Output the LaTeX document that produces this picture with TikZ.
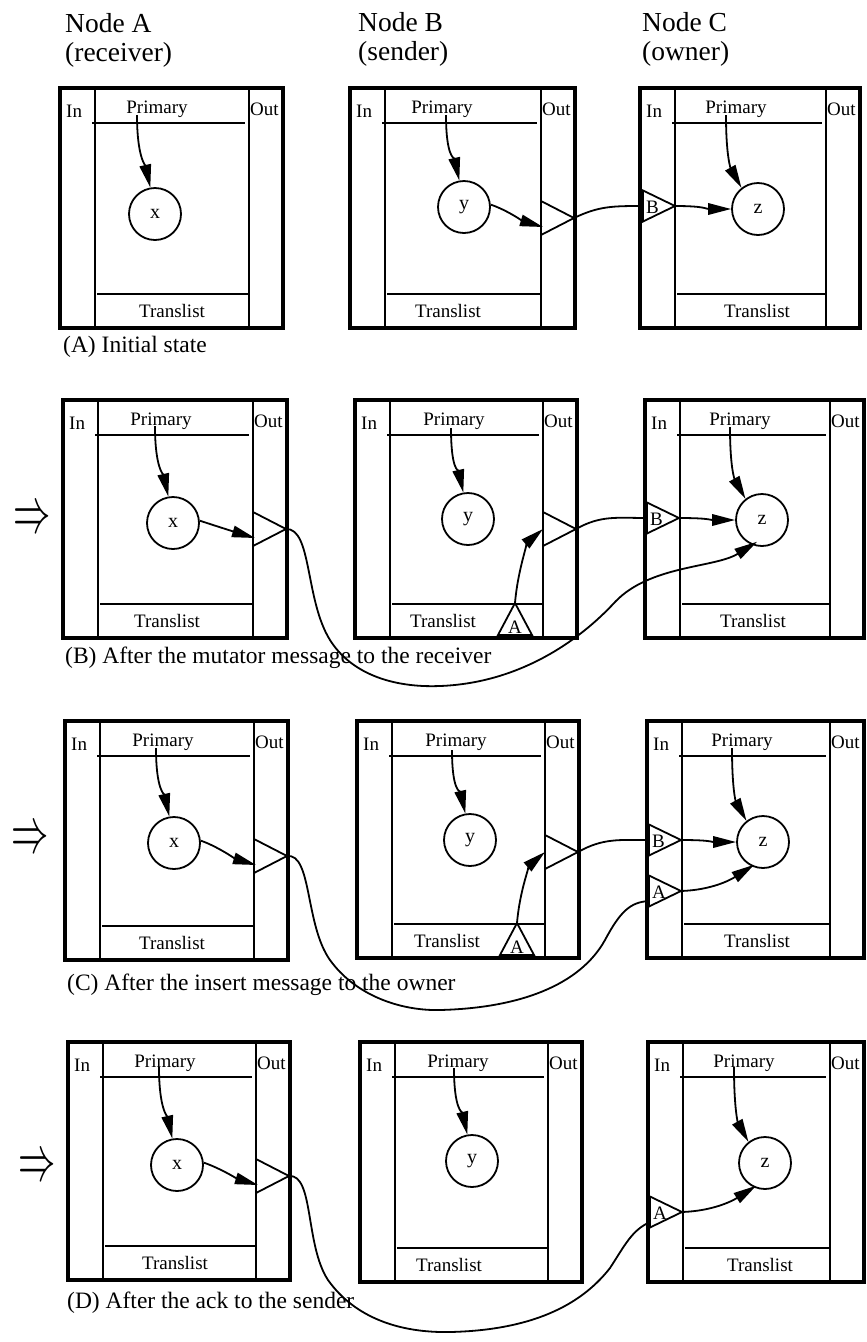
\documentclass[tikz,border=0pt]{standalone}
\usepackage{fontspec}
\setmainfont{Liberation Serif}
\usetikzlibrary{arrows.meta}
\tikzset{
  outer/.style={line width=4.5pt},
  ln/.style={line width=1.7pt},
  lbl/.style={font=\fontsize{19}{22}\selectfont, inner sep=0pt},
  hdr/.style={font=\fontsize{27.5}{32}\selectfont, inner sep=0pt, anchor=base west},
  captext/.style={font=\fontsize{23.5}{28}\selectfont, inner sep=0pt, anchor=base west},
  impl/.style={font=\fontsize{24.88}{30}\selectfont, inner sep=0pt},
  obj/.style={circle, draw, line width=1.8pt, minimum size=52pt, inner sep=0pt, font=\fontsize{20}{24}\selectfont},
  arr/.style={line width=1.8pt, -{Triangle[length=23pt,width=11.5pt]}},
  wire/.style={line width=1.8pt},
  tri/.style={line width=1.8pt, fill=white, line join=miter},
}
% #1 prefix, #2 L, #3 T, #4 R, #5 B, #6 Primary x, #7 Translist x
\newcommand{\panelbox}[7]{%
  \draw[outer] (#2,#3) rectangle (#4,#5);
  \draw[ln] ({#2+35},#3) -- ({#2+35},#5);
  \draw[ln] ({#4-34},#3) -- ({#4-34},#5);
  \draw[ln] ({#2+32},{#3+35}) -- ({#4-38},{#3+35});
  \draw[ln] ({#2+37},{#5-34}) -- ({#4-33},{#5-34});
  \node[lbl, anchor=base west] (#1in) at ({#2+6},{#3+29}) {In};
  \node[lbl, anchor=base] (#1prim) at (#6,{#3+25}) {Primary};
  \node[lbl, anchor=base west] (#1out) at ({#4-33},{#3+27}) {Out};
  \node[lbl, anchor=base] (#1tl) at (#7,{#5-11}) {Translist};
}
% out triangle: #1 name, #2 left x, #3 mid y
\newcommand{\outtri}[3]{%
  \draw[tri] (#2,{#3-17}) -- ({#2+33},#3) -- (#2,{#3+17}) -- cycle;
  \coordinate (#1-apex) at ({#2+33},#3);
  \coordinate (#1-in) at ({#2+2},{#3+9});
  \coordinate (#1-mid) at (#2,#3);
}
% in triangle: #1 name, #2 left x, #3 mid y, #4 label
\newcommand{\intri}[4]{%
  \draw[tri] (#2,{#3-15.5}) -- ({#2+32},#3) -- (#2,{#3+15.5}) -- cycle;
  \node[lbl, anchor=west] (#1-lbl) at ({#2+3},{#3+1}) {#4};
  \coordinate (#1-apex) at ({#2+32},#3);
  \coordinate (#1-left) at (#2,#3);
  \coordinate (#1-low) at (#2,{#3+10});
}
% up triangle: #1 name, #2 apex x, #3 base y, #4 label
\newcommand{\uptri}[4]{%
  \draw[tri] ({#2-17},#3) -- (#2,{#3-32}) -- ({#2+17},#3) -- cycle;
  \node[lbl, anchor=base] (#1-lbl) at (#2,{#3-2}) {#4};
  \coordinate (#1-apex) at (#2,{#3-32});
}
\begin{document}
\begin{tikzpicture}[x=1pt,y=-1pt]
\useasboundingbox (0,0) rectangle (867,1342);

% headers
\node[hdr] (hA1) at (65,32) {Node A};
\node[hdr] (hA2) at (65,61) {(receiver)};
\node[hdr] (hB1) at (358,31) {Node B};
\node[hdr] (hB2) at (358,60) {(sender)};
\node[hdr] (hC1) at (642,31) {Node C};
\node[hdr] (hC2) at (642,60) {(owner)};

% panels
\panelbox{a1}{60}{88}{283}{328}{157}{172}
\panelbox{b1}{350}{88}{575}{328}{442}{448}
\panelbox{c1}{640}{88}{860}{328}{736}{757}
\panelbox{a2}{63}{400}{287}{638}{161}{167}
\panelbox{b2}{355}{400}{577}{638}{454}{443}
\panelbox{c2}{645}{400}{864}{638}{740}{753}
\panelbox{a3}{65}{721}{288}{960}{163}{172}
\panelbox{b3}{357}{721}{579}{958}{456}{447}
\panelbox{c3}{647}{721}{864}{958}{742}{757}
\panelbox{a4}{68}{1042}{290}{1280}{165}{175}
\panelbox{b4}{360}{1042}{582}{1282}{458}{449}
\panelbox{c4}{648}{1042}{864}{1282}{744}{760}

% captions and implication arrows
\node[captext] (capA) at (63,352) {(A) Initial state};
\node[captext] (capB) at (65,663) {(B) After the mutator message to the receiver};
\node[captext] (capC) at (67,990) {(C) After the insert message to the owner};
\node[captext] (capD) at (67,1308) {(D) After the ack to the sender};
\node[impl] (impB) at (32,521) {\scalebox{1.5}[2.6]{$\Rightarrow$}};
\node[impl] (impC) at (30,841) {\scalebox{1.5}[2.6]{$\Rightarrow$}};
\node[impl] (impD) at (37,1169) {\scalebox{1.5}[2.6]{$\Rightarrow$}};

% triangles
\outtri{b1o}{541}{218}
\outtri{a2o}{253}{529}
\outtri{b2o}{543}{529}
\outtri{a3o}{254}{856}
\outtri{b3o}{545}{852}
\outtri{a4o}{256}{1176}
\intri{c1B}{643}{206}{B}
\intri{c2B}{647}{518}{B}
\intri{c3B}{649}{840}{B}
\intri{c3A}{649}{891}{A}
\intri{c4A}{650}{1212}{A}
\uptri{b2A}{515}{635}{A}
\uptri{b3A}{517}{955}{A}

% objects
\node[obj] (a1x) at (155,214) {x};
\node[obj] (b1y) at (464,207) {y};
\node[obj] (c1z) at (758,209) {z};
\node[obj] (a2x) at (173,523) {x};
\node[obj] (b2y) at (468,519) {y};
\node[obj] (c2z) at (762,520) {z};
\node[obj] (a3x) at (174,843) {x};
\node[obj] (b3y) at (470,840) {y};
\node[obj] (c3z) at (763,842) {z};
\node[obj] (a4x) at (177,1165) {x};
\node[obj] (b4y) at (472,1161) {y};
\node[obj] (c4z) at (765,1163) {z};

% primary pointers
\coordinate (a1p) at (137,115);
\coordinate (b1p) at (446,115);
\coordinate (c1p) at (726,115);
\coordinate (a2p) at (155,426);
\coordinate (b2p) at (451,428);
\coordinate (c2p) at (730,427);
\coordinate (a3p) at (156,748);
\coordinate (b3p) at (452,750);
\coordinate (c3p) at (732,748);
\coordinate (a4p) at (159,1067);
\coordinate (b4p) at (454,1068);
\coordinate (c4p) at (734,1067);
\foreach \p/\c in {a1p/a1x,b1p/b1y,a2p/a2x,b2p/b2y,a3p/a3x,b3p/b3y,a4p/a4x,b4p/b4y}{
  \draw[arr] (\p) .. controls +(0,42) and +(-5,-22) .. (\c.100);
}
\foreach \p/\c in {c1p/c1z,c2p/c2z,c3p/c3z,c4p/c4z}{
  \draw[arr] (\p) .. controls +(0,45) and +(-10,-18) .. (\c.128);
}

% object to out-triangle
\foreach \c/\t in {b1y/b1o,a2x/a2o,a3x/a3o,a4x/a4o}{
  \draw[arr] (\c.5) .. controls +(15,5) and +(-20,-6) .. (\t-in);
}

% row A
\draw[wire] (b1o-apex) .. controls +(25,-12) and +(-30,0) .. (c1B-left);
\draw[arr] (c1B-apex) .. controls +(30,0) and +(-25,0) .. (c1z.west);

% row B
\draw[arr, shorten >=-6pt] (a2o-apex) .. controls (312,528) and (305,600) .. (330,640)
  .. controls (350,672) and (390,688) .. (440,686)
  .. controls (520,683) and (580,640) .. (615,602)
  .. controls (650,565) and (715,568) .. (c2z.248);
\draw[arr] (b2A-apex) .. controls +(3,-35) and +(-14,12) .. (b2o-mid);
\draw[wire] (b2o-apex) .. controls +(25,-14) and +(-30,0) .. (c2B-left);
\draw[arr] (c2B-apex) .. controls +(30,0) and +(-25,0) .. (c2z.west);

% row C
\draw[wire] (a3o-apex) .. controls (312,853) and (305,925) .. (330,960)
  .. controls (355,995) and (400,1011) .. (440,1010)
  .. controls (520,1008) and (580,985) .. (605,940)
  .. controls (620,912) and (630,902) .. (c3A-low);
\draw[arr] (b3A-apex) .. controls +(3,-35) and +(-14,12) .. (b3o-mid);
\draw[wire] (b3o-apex) .. controls +(25,-14) and +(-30,0) .. (c3B-left);
\draw[arr] (c3B-apex) .. controls +(30,0) and +(-25,0) .. (c3z.west);
\draw[arr, shorten >=-3pt] (c3A-apex) .. controls +(30,-1) and +(-22,14) .. (c3z.245);

% row D
\draw[wire] (a4o-apex) .. controls (314,1174) and (305,1245) .. (328,1280)
  .. controls (355,1318) and (400,1333) .. (450,1332)
  .. controls (540,1330) and (585,1300) .. (610,1268)
  .. controls (625,1245) and (632,1230) .. (c4A-low);
\draw[arr, shorten >=-3pt] (c4A-apex) .. controls +(30,-1) and +(-22,14) .. (c4z.245);
\end{tikzpicture}
\end{document}
